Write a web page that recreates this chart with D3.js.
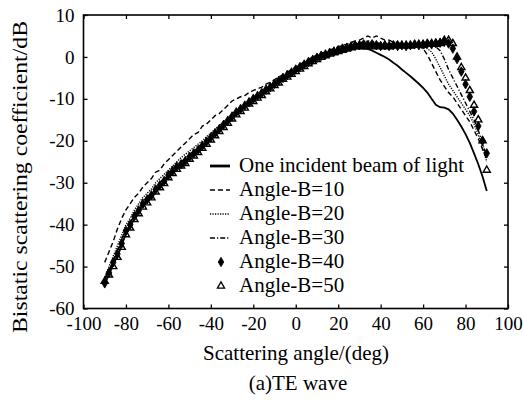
<!DOCTYPE html>
<html>
<head>
<meta charset="utf-8">
<script src="https://cdn.jsdelivr.net/npm/d3@7"></script>
</head>
<body style="margin:0">
<script>
// ### Data ###
var angles = d3.range(-90, 91, 2);

var oneBeam = [
  -54, -52, -49.5, -47.5, -45, -42, -40.5, -38.5, -37, -35.5,
  -34.5, -33.5, -32, -31, -30, -28.5, -27.5, -26.5, -26, -25.2,
  -24, -23.4, -22.5, -21.5, -20.6, -19.5, -18.6, -17.5, -16.6, -15.5,
  -14.6, -13.5, -12.7, -12, -11, -10.4, -9.6, -9, -8, -7.5,
  -6.6, -6, -5.1, -4.6, -4, -3.4, -3, -2.1, -1.6, -1,
  -0.6, 0, 0.1, 0.6, 1, 1.1, 1.5, 1.6, 2, 2,
  2.1, 2, 1.9, 1.5, 1, 0.5, 0, -0.6, -1.4, -2.1,
  -3, -3.8, -4.6, -5.5, -6.4, -7.4, -8.5, -10, -11.4, -12,
  -12.1, -12.5, -13.5, -15, -16.6, -18.4, -20.5, -23, -25.6, -28.5, -32
];
var angleB10 = [
  -49, -46.5, -44, -41, -38.5, -36.5, -35, -33.5, -32.5, -31,
  -30, -29, -27.5, -27, -25.5, -24.5, -23.5, -22.5, -21.5, -20.5,
  -19.5, -18.5, -18, -16.5, -16, -15, -14, -13.5, -12.5, -11.5,
  -10.5, -10, -9.5, -9.2, -8.5, -8, -7.6, -7.2, -6.5, -6,
  -5.4, -4.8, -4.2, -3.6, -3, -2.4, -1.8, -1.2, -0.6, 0,
  0.4, 0.8, 1.2, 1.6, 2, 2.4, 2.8, 3, 3.4, 3.8,
  4, 4.5, 5, 4.5, 5, 4.5, 4, 4, 3.5, 3.5,
  3, 3, 2.5, 3, 2.5, 2, 0.5, -1.5, -3.5, -5.5,
  -7, -8.5, -9.5, -11, -12.5, -14, -15.5, -17.5, -19.5, -22, -24.5
];
var angleB20 = [
  -52.5, -50, -47.5, -45, -42.5, -40, -38.5, -36.5, -35, -33.5,
  -32.5, -31.5, -30, -29, -28, -27, -26, -25, -24, -23.2,
  -22.4, -21.6, -20.8, -20, -19, -18.2, -17.2, -16.4, -15.4, -14.6,
  -13.6, -12.8, -12, -11.2, -10.4, -9.6, -9, -8.2, -7.6, -7,
  -6.2, -5.6, -4.8, -4.2, -3.6, -3, -2.4, -1.8, -1.2, -0.6,
  0, 0.4, 0.8, 1.2, 1.6, 2, 2.2, 2.6, 3, 3.2,
  3.4, 3.6, 3.8, 3.6, 3.4, 3.2, 3, 3.2, 3, 2.8,
  3, 2.6, 2.8, 2.4, 2.6, 2.2, 2, 1.2, -0.5, -2.5,
  -4.5, -6.5, -8, -9.5, -11, -12.5, -14, -16, -18.5, -21.5, -25
];
var angleB30 = [
  -53, -51, -48.5, -46, -43.5, -41, -39.5, -37.5, -36, -34.5,
  -33.5, -32.5, -31, -30, -29, -27.6, -26.6, -25.6, -25, -24.2,
  -23.2, -22.5, -21.6, -20.6, -19.8, -18.8, -17.9, -16.9, -16, -15,
  -14, -13.2, -12.3, -11.6, -10.7, -10, -9.2, -8.6, -7.8, -7.2,
  -6.4, -5.8, -5, -4.4, -3.8, -3.2, -2.6, -2, -1.4, -0.8,
  -0.2, 0.3, 0.6, 1, 1.4, 1.8, 2, 2.4, 2.6, 3,
  3.2, 3.4, 3.2, 3.4, 3, 3.2, 3, 2.8, 3, 2.8,
  2.6, 2.8, 2.6, 2.8, 2.6, 2.8, 2.6, 2.8, 2.4, 1.5,
  -0.5, -3, -5, -7, -9, -11, -13, -15, -17.5, -20.5, -24
];
var angleB40 = [
  -54, -51.5, -49, -47, -44.5, -41.5, -40, -38, -36.6, -35,
  -34, -33, -31.6, -30.6, -29.6, -28.2, -27.2, -26.2, -25.6, -24.8,
  -23.8, -23, -22.2, -21.2, -20.2, -19.2, -18.2, -17.2, -16.2, -15.2,
  -14.2, -13.2, -12.4, -11.6, -10.8, -10, -9.3, -8.6, -7.8, -7.2,
  -6.4, -5.7, -5, -4.3, -3.7, -3, -2.4, -1.8, -1.2, -0.7,
  -0.2, 0.3, 0.6, 1, 1.3, 1.6, 2, 2.2, 2.5, 2.7,
  2.8, 3, 2.8, 3, 2.8, 2.6, 2.8, 2.6, 2.8, 2.6,
  2.8, 2.6, 2.8, 3, 2.8, 3, 3.2, 3, 3.3, 3.4,
  3.6, 3.2, 2, -0.5, -3.5, -6.5, -9.5, -13, -16.5, -20, -23
];
var angleB50 = [
  -53.5, -52, -50, -47.8, -45.4, -42.4, -40.8, -38.8, -37.4, -35.8,
  -34.8, -33.6, -32.2, -31.2, -30.2, -28.8, -27.8, -26.8, -26, -25.4,
  -24.4, -23.6, -22.8, -21.8, -20.8, -19.8, -18.8, -17.8, -16.8, -15.8,
  -14.8, -13.8, -13, -12.2, -11.2, -10.6, -9.8, -9.2, -8.3, -7.6,
  -6.8, -6.2, -5.3, -4.8, -4.1, -3.5, -2.9, -2.3, -1.6, -1.1,
  -0.6, -0.1, 0.3, 0.7, 1, 1.3, 1.6, 1.9, 2.2, 2.4,
  2.6, 2.4, 2.6, 2.4, 2.6, 2.4, 2.6, 2.4, 2.6, 2.8,
  2.6, 2.8, 2.6, 2.8, 3, 2.8, 3, 3.2, 3, 3.2,
  4, 4, 3.2, 0, -2.5, -5, -8, -11.5, -15, -20, -27
];

var seriesNames = ["One incident beam of light", "Angle-B=10", "Angle-B=20", "Angle-B=30", "Angle-B=40", "Angle-B=50"];
var xTicks = [-100, -80, -60, -40, -20, 0, 20, 40, 60, 80, 100];
var yTicks = [10, 0, -10, -20, -30, -40, -50, -60];

// ### Layout ###
var W = 523, H = 400;
var margin = {top: 15, right: 15, bottom: 91.5, left: 83.5};
var width = W - margin.left - margin.right;
var height = H - margin.top - margin.bottom;
var fontName = "Liberation Serif";

var svg = d3.select("body").append("svg")
    .attr("width", W)
    .attr("height", H);

var g = svg.append("g")
    .attr("transform", "translate(" + margin.left + "," + margin.top + ")");

var x = d3.scaleLinear().domain([-100, 100]).range([0, width]);
var y = d3.scaleLinear().domain([-60, 10]).range([height, 0]);

// series styles
var styles = [
  {data: oneBeam,  dash: null,          width: 1.8, marker: null},
  {data: angleB10, dash: "5,3",         width: 1.4, marker: null},
  {data: angleB20, dash: "1.2,1.3",     width: 1.4, marker: null},
  {data: angleB30, dash: "5,2,1.2,2",   width: 1.4, marker: null},
  {data: angleB40, dash: null,          width: 0,   marker: "dot"},
  {data: angleB50, dash: null,          width: 0,   marker: "tri"}
];

var symDot = d3.symbol().type(d3.symbolDiamond).size(26);
var symTri = d3.symbol().type(d3.symbolTriangle).size(22);

var line = d3.line()
    .x(function(d) { return x(d[0]); })
    .y(function(d) { return y(d[1]); });

var plot = g.append("g");

styles.forEach(function(s, i) {
  var pts = angles.map(function(a, k) { return [a, s.data[k]]; });
  if (s.width > 0) {
    plot.append("path")
        .datum(pts)
        .attr("fill", "none")
        .attr("stroke", "#000")
        .attr("stroke-width", s.width)
        .attr("stroke-dasharray", s.dash)
        .attr("d", line);
  }
  if (s.marker) {
    plot.selectAll(".m" + i)
        .data(pts)
      .enter().append("path")
        .attr("class", "m" + i)
        .attr("transform", function(d) { return "translate(" + x(d[0]) + "," + y(d[1]) + ")"; })
        .attr("d", s.marker === "dot" ? symDot : symTri)
        .attr("fill", s.marker === "dot" ? "#000" : "none")
        .attr("stroke", "#000")
        .attr("stroke-width", s.marker === "dot" ? 0.9 : 1.4);
  }
});

// serif text helper
function serif(sel, size) {
  sel.attr("font-size", size)
     .attr("font-family", fontName)
     .style("font-family", "'" + fontName + "'")
     .attr("fill", "#000");
}

// ### Axes (ticks inside, on all four sides) ###
var tickLen = 4;
var fmt = function(d) { return String(d); };
function styleTicks(a) {
  a.select(".domain").remove();
  a.attr("font-family", fontName);
  a.selectAll("text").call(serif, 19);
}
g.append("g")
    .attr("transform", "translate(0," + height + ")")
    .call(d3.axisBottom(x).tickValues(xTicks).tickFormat(fmt).tickSizeInner(-tickLen).tickSizeOuter(0).tickPadding(8))
    .call(styleTicks);
g.append("g")
    .call(d3.axisTop(x).tickValues(xTicks).tickSizeInner(-tickLen).tickSizeOuter(0).tickFormat(""))
    .call(styleTicks);
g.append("g")
    .call(d3.axisLeft(y).tickValues(yTicks).tickFormat(fmt).tickSizeInner(-tickLen).tickSizeOuter(0).tickPadding(9))
    .call(styleTicks);
g.append("g")
    .attr("transform", "translate(" + width + ",0)")
    .call(d3.axisRight(y).tickValues(yTicks).tickSizeInner(-tickLen).tickSizeOuter(0).tickFormat(""))
    .call(styleTicks);

g.selectAll(".tick line").attr("stroke", "#000").attr("stroke-width", 1.3);

// frame
g.append("rect")
    .attr("width", width)
    .attr("height", height)
    .attr("fill", "none")
    .attr("stroke", "#000")
    .attr("stroke-width", 1.6);

// ### Legend ###
var legend = g.append("g")
    .attr("transform", "translate(" + (210 - margin.left) + "," + (172 - margin.top) + ")");

seriesNames.forEach(function(name, i) {
  var row = legend.append("g").attr("transform", "translate(0," + (i * 24) + ")");
  var s = styles[i];
  if (s.width > 0) {
    row.append("line")
        .attr("x1", 0).attr("x2", 20)
        .attr("y1", -6).attr("y2", -6)
        .attr("stroke", "#000")
        .attr("stroke-width", i === 0 ? 2.8 : 1.3)
        .attr("stroke-dasharray", s.dash);
  } else {
    row.append("path")
        .attr("transform", "translate(11,-6)")
        .attr("d", s.marker === "dot" ? symDot : symTri)
        .attr("fill", s.marker === "dot" ? "#000" : "none")
        .attr("stroke", "#000")
        .attr("stroke-width", s.marker === "dot" ? 0.8 : 1.3);
  }
  row.append("text")
      .attr("x", 29)
      .attr("y", 0)
      .call(serif, 21)
      .text(name);
});

// ### Axis titles ###
svg.append("text")
    .attr("x", 296)
    .attr("y", 360)
    .attr("text-anchor", "middle")
    .call(serif, 21)
    .text("Scattering angle/(deg)");

svg.append("text")
    .attr("x", 298)
    .attr("y", 390)
    .attr("text-anchor", "middle")
    .call(serif, 21)
    .text("(a)TE wave");

svg.append("text")
    .attr("transform", "translate(27,177) rotate(-90)")
    .attr("text-anchor", "middle")
    .call(serif, 21)
    .attr("textLength", 312)
    .attr("lengthAdjust", "spacingAndGlyphs")
    .text("Bistatic scattering coefficient/dB");
</script>
</body>
</html>
